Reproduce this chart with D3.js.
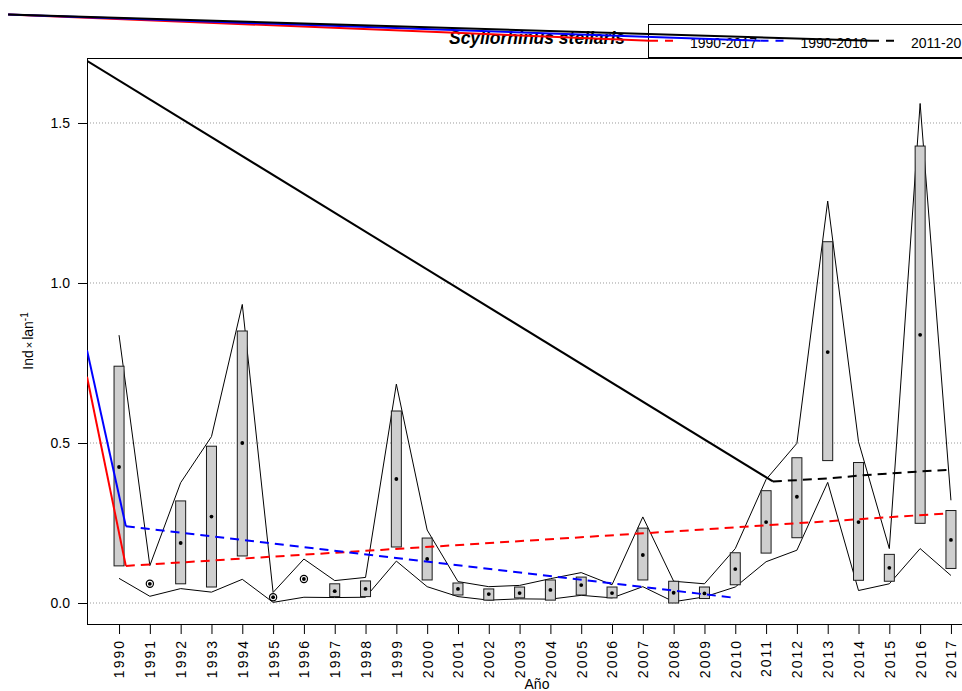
<!DOCTYPE html>
<html><head><meta charset="utf-8">
<script src="https://cdn.jsdelivr.net/npm/d3@7"></script>
<style>body{margin:0;background:#fff}svg{display:block}</style>
</head><body>
<svg id="c" width="962" height="691"></svg>
<script>
// ---------------- data ----------------
const years    = [1990,1991,1992,1993,1994,1995,1996,1997,1998,1999,2000,2001,2002,2003,2004,2005,2006,2007,2008,2009,2010,2011,2012,2013,2014,2015,2016,2017];
const boxHigh  = [0.740,null,0.319,0.490,0.850,null,null,0.060,0.069,0.600,0.203,0.0625,0.044,0.050,0.072,0.081,0.050,0.234,0.068,0.050,0.157,0.351,0.454,1.129,0.439,0.152,1.428,0.289];
const boxLow   = [0.116,null,0.060,0.050,0.147,null,null,0.020,0.020,0.175,0.072,0.025,0.009,0.016,0.009,0.025,0.016,0.072,0.000,0.014,0.057,0.156,0.204,0.445,0.071,0.068,0.249,0.108];
const meanVal  = [0.425,0.060,0.1875,0.270,0.500,0.018,0.075,0.037,0.044,0.3875,0.1375,0.044,0.028,0.031,0.041,0.056,0.031,0.150,0.032,0.030,0.106,0.253,0.332,0.784,0.253,0.110,0.838,0.197];
const upperVal = [0.837,0.117,0.376,0.520,0.933,0.033,0.1375,0.070,0.080,0.684,0.228,0.067,0.051,0.055,0.076,0.095,0.057,0.269,0.068,0.060,0.170,0.386,0.499,1.256,0.504,0.170,1.561,0.321];
const lowerVal = [0.077,0.021,0.045,0.034,0.074,0.002,0.018,0.017,0.018,0.131,0.051,0.020,0.009,0.013,0.012,0.024,0.016,0.051,0.004,0.019,0.050,0.129,0.165,0.377,0.039,0.060,0.170,0.086];

// fitted trends (dashed)
const trendNames  = ["1990-2017","1990-2010","2011-2017"];
const trendRed    = [[1990.22,0.116],[1998.5,0.166],[2008.2,0.225],[2016.87,0.280]];
const trendBlue   = [[1990.22,0.240],[2009.99,0.016]];
const trendBlack  = [[2011.22,0.380],[2013,0.389],[2014,0.398],[2016,0.411],[2016.87,0.416]];
// solid connector segments (plot edge value -> trend start)
const solidRed    = [[1988.96,0.707],[1990.22,0.116]];
const solidBlue   = [[1988.96,0.790],[1990.22,0.240]];
const solidBlack  = [[1988.96,1.694],[2011.22,0.380]];
// stray anchor point in the outer margin from which lines reach the legend keys
const anchorPoint = [1986.40, 1.839];

const yTicks = [0.0, 0.5, 1.0, 1.5];
const yTickLabels = ["0.0","0.5","1.0","1.5"];
const titleText = "Scyliorhinus stellaris";
const xTitle = "Año";

// ---------------- layout ----------------
const L = 87, R = 987, T = 58, B = 624;
const svg = d3.select("#c");
const font = "'Liberation Sans', Arial, Helvetica, sans-serif";

const x = d3.scaleLinear().domain([1988.96, 2018.17]).range([L, R]);
const y = d3.scaleLinear().domain([-0.0656, 1.7031]).range([B, T]);

svg.append("defs").append("clipPath").attr("id","plotclip")
  .append("rect").attr("x",L).attr("y",T).attr("width",R-L).attr("height",B-T);

// grid
svg.append("g").selectAll("line").data(yTicks).join("line")
  .attr("x1",L).attr("x2",R).attr("y1",d=>y(d)).attr("y2",d=>y(d))
  .attr("stroke","#9a9a9a").attr("stroke-width",1).attr("stroke-dasharray","1,2");

// plot box
svg.append("rect").attr("x",L+0.5).attr("y",T+0.5).attr("width",R-L).attr("height",B-T)
  .attr("fill","none").attr("stroke","#000").attr("stroke-width",1);

// y axis
const yAxis = d3.axisLeft(y).tickValues(yTicks).tickFormat((d,i)=>yTickLabels[i]).tickSize(9).tickPadding(8);
const gy = svg.append("g").attr("transform",`translate(${L},0)`).call(yAxis);
gy.select(".domain").remove();
gy.selectAll("text").attr("font-family",font).attr("font-size",14).attr("fill","#000");
gy.selectAll("line").attr("stroke","#000");

// x axis
const xAxis = d3.axisBottom(x).tickValues(years).tickFormat(d3.format("d")).tickSize(9).tickPadding(6);
const gx = svg.append("g").attr("transform",`translate(0,${B+1})`).call(xAxis);
gx.select(".domain").remove();
gx.selectAll("line").attr("stroke","#000");
gx.selectAll("text").attr("font-family",font).attr("font-size",14).attr("fill","#000")
  .attr("letter-spacing","2px")
  .attr("transform","rotate(-90)").attr("text-anchor","end")
  .attr("x",-14).attr("y",0).attr("dy","0.35em");

// axis titles
svg.append("text").attr("x",(L+R)/2).attr("y",689).attr("text-anchor","middle")
  .attr("font-family",font).attr("font-size",14).text(xTitle);
const yl = svg.append("text").attr("transform",`translate(33,${(T+B)/2}) rotate(-90)`)
  .attr("text-anchor","middle").attr("font-family",font).attr("font-size",14);
yl.append("tspan").text("Ind");
yl.append("tspan").attr("font-size",11).attr("dx",2).text("×");
yl.append("tspan").attr("dx",2).text("lan");
yl.append("tspan").attr("font-size",10).attr("baseline-shift","super").text("-1");

// upper / lower envelope lines
const env = d3.line().x(d=>x(d[0])).y(d=>y(d[1]));
svg.append("path").datum(years.map((yr,i)=>[yr,upperVal[i]])).attr("d",env)
  .attr("fill","none").attr("stroke","#000").attr("stroke-width",1);
svg.append("path").datum(years.map((yr,i)=>[yr,lowerVal[i]])).attr("d",env)
  .attr("fill","none").attr("stroke","#000").attr("stroke-width",1);

// boxes
const bw = 5;
const boxData = years.map((yr,i)=>({yr,hi:boxHigh[i],lo:boxLow[i],m:meanVal[i]}));
svg.append("g").selectAll("rect").data(boxData.filter(d=>d.hi!==null)).join("rect")
  .attr("x",d=>x(d.yr)-bw).attr("width",2*bw)
  .attr("y",d=>y(d.hi)).attr("height",d=>y(d.lo)-y(d.hi))
  .attr("fill","#cfcfcf").attr("stroke","#1a1a1a").attr("stroke-width",1);

// special markers where there is no box
svg.append("g").selectAll("circle").data(boxData.filter(d=>d.hi===null)).join("circle")
  .attr("cx",d=>x(d.yr)).attr("cy",d=>y(d.m)).attr("r",3.6)
  .attr("fill","none").attr("stroke","#000").attr("stroke-width",1.2);
// means
svg.append("g").selectAll("circle").data(boxData).join("circle")
  .attr("cx",d=>x(d.yr)).attr("cy",d=>y(d.m)).attr("r",1.9).attr("fill","#000");

// trend lines
const tl = d3.line().x(d=>x(d[0])).y(d=>y(d[1]));
const gT = svg.append("g").attr("clip-path","url(#plotclip)");
const trends = [
  {solid:solidRed, dash:trendRed, col:"#ff0000"},
  {solid:solidBlue, dash:trendBlue, col:"#0000ff"},
  {solid:solidBlack, dash:trendBlack, col:"#000000"}
];
trends.forEach(t=>{
  gT.append("path").datum(t.dash).attr("d",tl).attr("fill","none")
    .attr("stroke",t.col).attr("stroke-width",2).attr("stroke-dasharray","9,6");
  gT.append("path").datum(t.solid).attr("d",tl).attr("fill","none")
    .attr("stroke",t.col).attr("stroke-width",2);
});

// title
svg.append("text").attr("x",(L+R)/2).attr("y",44).attr("text-anchor","middle")
  .attr("font-family",font).attr("font-size",17.5).attr("font-weight","bold").attr("font-style","italic")
  .text(titleText);

// legend
const lgX = 648, lgY = 24, lgH = 33;
svg.append("rect").attr("x",lgX+0.5).attr("y",lgY+0.5).attr("width",400).attr("height",lgH)
  .attr("fill","none").attr("stroke","#000").attr("stroke-width",1);
const keyY = 40.7, keyStart = 650, keyStep = 110.5, keyLen = 26, txtOff = 40;
const legendCols = ["#ff0000","#0000ff","#000000"];
trendNames.forEach((nm,i)=>{
  const kx = keyStart + i*keyStep;
  svg.append("line").attr("x1",kx).attr("x2",kx+keyLen).attr("y1",keyY).attr("y2",keyY)
    .attr("stroke",legendCols[i]).attr("stroke-width",2).attr("stroke-dasharray","8,7");
  svg.append("text").attr("x",kx+txtOff).attr("y",keyY+7).attr("font-family",font)
    .attr("font-size",14).text(nm);
});

// stray margin lines: anchor -> legend key starts
const ax = x(anchorPoint[0]), ay = y(anchorPoint[1]);
trendNames.forEach((nm,i)=>{
  const kx = keyStart + i*keyStep;
  svg.append("line").attr("x1",ax).attr("y1",ay).attr("x2",kx).attr("y2",keyY)
    .attr("stroke",legendCols[i]).attr("stroke-width",2);
});
</script>
</body></html>
